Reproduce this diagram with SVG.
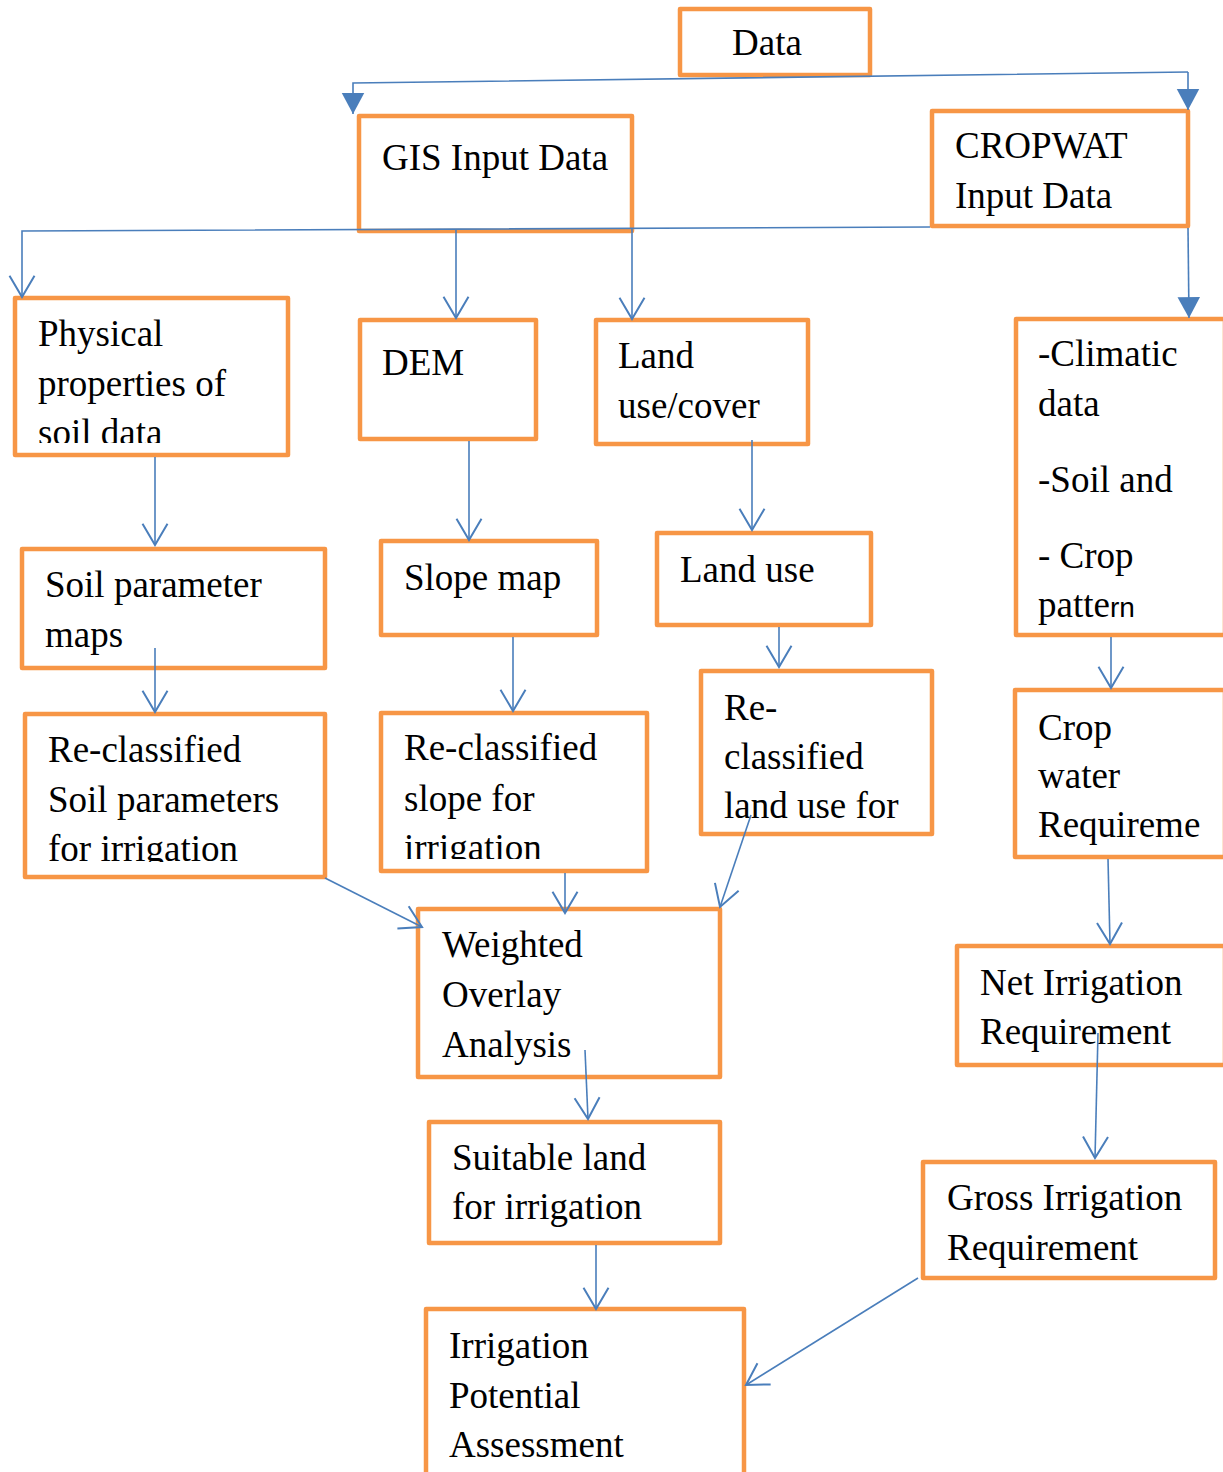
<svg xmlns="http://www.w3.org/2000/svg" width="1223" height="1472" viewBox="0 0 1223 1472">
<style>
.box{fill:#fff;stroke:#F79646;stroke-width:4.5;stroke-linejoin:round}
.t{font-family:"Liberation Serif","Times New Roman",serif;font-size:37px;fill:#000}
.c{fill:none;stroke:#4A7EBB;stroke-width:1.6}
.o{marker-end:url(#open)}
.f{marker-end:url(#fill)}
</style>
<defs>
<marker id="open" markerUnits="userSpaceOnUse" markerWidth="30" markerHeight="30" viewBox="-20 -12 22 24" refX="0" refY="0" orient="auto">
<path d="M-17,-10 L0,0 L-17,10" fill="none" stroke="#4A7EBB" stroke-width="1.6"/>
</marker>
<marker id="fill" markerUnits="userSpaceOnUse" markerWidth="30" markerHeight="30" viewBox="-16 -10 18 20" refX="0" refY="0" orient="auto">
<path d="M-14,-7.5 L0,0 L-14,7.5 Z" fill="#4A7EBB"/>
</marker>
<clipPath id="cp1"><rect x="15" y="298" width="273" height="145"/></clipPath>
<clipPath id="cp2"><rect x="25" y="714" width="300" height="148"/></clipPath>
<clipPath id="cp3"><rect x="381" y="713" width="266" height="146"/></clipPath>
</defs>

<g id="data"><rect class="box" x="680" y="9" width="190" height="66"/><text class="t" x="732" y="55" font-size="36">Data</text></g>
<g id="gis"><rect class="box" x="359" y="116" width="273" height="115"/><text class="t" x="382" y="170">GIS Input Data</text></g>
<g id="cropwat"><rect class="box" x="932" y="111" width="256" height="115"/><text class="t" x="955" y="158">CROPWAT</text><text class="t" x="955" y="208">Input Data</text></g>

<g id="physical"><rect class="box" x="15" y="298" width="273" height="157"/>
<g clip-path="url(#cp1)"><text class="t" x="38" y="346">Physical</text><text class="t" x="38" y="396">properties of</text><text class="t" x="38" y="445">soil data</text></g></g>
<g id="dem"><rect class="box" x="360" y="320" width="176" height="119"/><text class="t" x="382" y="375">DEM</text></g>
<g id="landcover"><rect class="box" x="596" y="320" width="212" height="124"/><text class="t" x="618" y="368">Land</text><text class="t" x="618" y="418">use/cover</text></g>
<g id="climatic"><rect class="box" x="1016" y="319" width="209" height="316"/>
<text class="t" x="1038" y="366">-Climatic</text><text class="t" x="1038" y="416">data</text><text class="t" x="1038" y="492">-Soil and</text><text class="t" x="1038" y="568">- Crop</text><text class="t" x="1038" y="617">patte<tspan font-family="Liberation Sans, Arial, sans-serif" font-size="28">rn</tspan></text></g>

<g id="soilparam"><rect class="box" x="22" y="549" width="303" height="119"/><text class="t" x="45" y="597">Soil parameter</text><text class="t" x="45" y="647">maps</text></g>
<g id="slope"><rect class="box" x="381" y="541" width="216" height="94"/><text class="t" x="404" y="590">Slope map</text></g>
<g id="landuse"><rect class="box" x="657" y="533" width="214" height="92"/><text class="t" x="680" y="582">Land use</text></g>

<g id="reland"><rect class="box" x="701" y="671" width="231" height="163"/><text class="t" x="724" y="720">Re-</text><text class="t" x="724" y="769">classified</text><text class="t" x="724" y="818">land use for</text></g>
<g id="cropwater"><rect class="box" x="1015" y="690" width="210" height="167"/><text class="t" x="1038" y="740">Crop</text><text class="t" x="1038" y="788">water</text><text class="t" x="1038" y="837">Requireme</text></g>
<g id="resoil"><rect class="box" x="25" y="714" width="300" height="163"/>
<g clip-path="url(#cp2)"><text class="t" x="48" y="762">Re-classified</text><text class="t" x="48" y="812">Soil parameters</text><text class="t" x="48" y="861">for irrigation</text></g></g>
<g id="reslope"><rect class="box" x="381" y="713" width="266" height="158"/>
<g clip-path="url(#cp3)"><text class="t" x="404" y="760">Re-classified</text><text class="t" x="404" y="811">slope for</text><text class="t" x="404" y="860">irrigation</text></g></g>

<g id="weighted"><rect class="box" x="418" y="909" width="302" height="168"/><text class="t" x="442" y="957">Weighted</text><text class="t" x="442" y="1007">Overlay</text><text class="t" x="442" y="1057">Analysis</text></g>
<g id="net"><rect class="box" x="957" y="946" width="268" height="119"/><text class="t" x="980" y="995">Net Irrigation</text><text class="t" x="980" y="1044">Requirement</text></g>
<g id="suitable"><rect class="box" x="429" y="1122" width="291" height="121"/><text class="t" x="452" y="1170">Suitable land</text><text class="t" x="452" y="1219">for irrigation</text></g>
<g id="gross"><rect class="box" x="923" y="1162" width="292" height="116"/><text class="t" x="947" y="1210">Gross Irrigation</text><text class="t" x="947" y="1260">Requirement</text></g>
<g id="potential"><rect class="box" x="426" y="1309" width="318" height="170"/><text class="t" x="449" y="1358">Irrigation</text><text class="t" x="449" y="1408">Potential</text><text class="t" x="449" y="1457">Assessment</text></g>

<g id="connectors">
<polyline class="c f" points="1188,72 353,83 353,114"/>
<line class="c f" x1="1188" y1="72" x2="1188" y2="110"/>
<polyline class="c o" points="930,227 22,231 22,297"/>
<line class="c o" x1="456" y1="230" x2="456" y2="318"/>
<line class="c o" x1="632" y1="229" x2="632" y2="319"/>
<line class="c f" x1="1188" y1="228" x2="1189" y2="318"/>
<line class="c o" x1="155" y1="457" x2="155" y2="545"/>
<line class="c o" x1="469" y1="441" x2="469" y2="540"/>
<line class="c o" x1="752" y1="440" x2="752" y2="530"/>
<line class="c o" x1="779" y1="627" x2="779" y2="667"/>
<line class="c o" x1="155" y1="648" x2="155" y2="712"/>
<line class="c o" x1="513" y1="637" x2="513" y2="711"/>
<line class="c o" x1="1111" y1="637" x2="1111" y2="688"/>
<line class="c o" x1="325" y1="878" x2="422" y2="927"/>
<line class="c o" x1="565" y1="873" x2="565" y2="913"/>
<line class="c o" x1="751" y1="815" x2="720" y2="907"/>
<line class="c o" x1="1108" y1="859" x2="1110" y2="944"/>
<line class="c o" x1="585" y1="1050" x2="588" y2="1119"/>
<line class="c o" x1="1098" y1="1033" x2="1095" y2="1158"/>
<line class="c o" x1="596" y1="1245" x2="596" y2="1309"/>
<line class="c o" x1="918" y1="1278" x2="746" y2="1385"/>
</g>
</svg>
